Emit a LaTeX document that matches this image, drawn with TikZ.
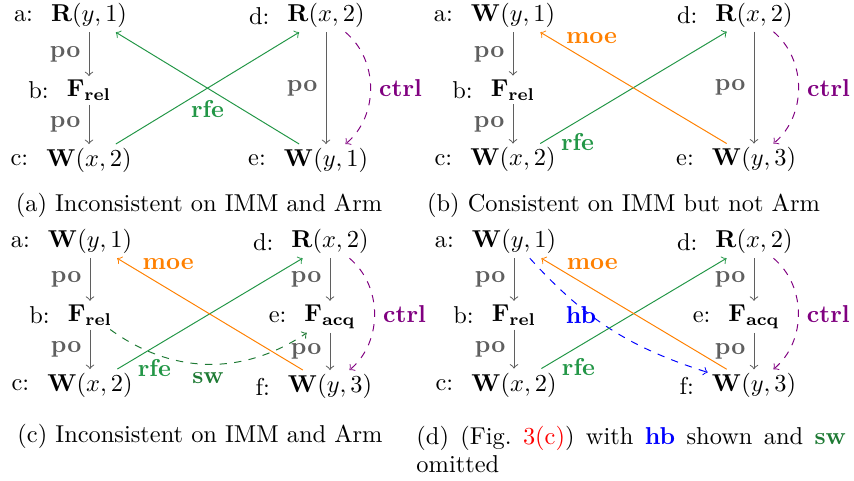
\documentclass[tikz,border=0pt]{standalone}
\usepackage{amsmath, amssymb}
\usepackage{xcolor}
\usetikzlibrary{positioning, arrows}
\definecolor{pogray}{RGB}{95, 95, 95}
\definecolor{rfegreen}{RGB}{34, 150, 70}
\definecolor{swgreen}{RGB}{30, 122, 52}
\definecolor{moeorange}{RGB}{255, 128, 0}
\definecolor{ctrlpurple}{RGB}{128, 0, 128}
\definecolor{hbblue}{RGB}{0, 0, 255}

\begin{document}
\begin{tikzpicture}[x=0.4098pt, y=-0.4098pt, >=to,
    evlabel/.style={inner sep=1.5pt, xshift=-4pt},
    event/.style={inner sep=1.5pt, anchor=base},
    poarrow/.style={->, color=pogray},
    polab/.style={left, text=pogray, font=\bfseries},
    rfearrow/.style={->, color=rfegreen},
    rfelab/.style={below=1.5pt, text=rfegreen, font=\bfseries},
    moearrow/.style={->, color=moeorange},
    moelab/.style={above=4.5pt, text=moeorange, font=\bfseries},
    ctrlarrow/.style={->, dashed, color=ctrlpurple},
    ctrllab/.style={right, text=ctrlpurple, font=\bfseries},
    swarrow/.style={->, dashed, color=swgreen},
    swlab/.style={below, text=swgreen, font=\bfseries},
    hbarrow/.style={->, dashed, color=hbblue},
    hblab/.style={anchor=north, yshift=4pt, text=hbblue, font=\bfseries},
    subcap/.style={anchor=base, inner sep=0pt}]

    \useasboundingbox (0,0) rectangle (854,481);

    % (a) Inconsistent on IMM and Arm
    \node[event, label={[evlabel]left:{a:}}] (a1) at (89,22) {$\mathbf{R}(y,1)$};
    \node[event, label={[evlabel]left:{b:}}] (b1) at (89,97) {$\mathbf{F}_{\mathbf{rel}}$};
    \node[event, label={[evlabel]left:{c:}}] (c1) at (89,166.5) {$\mathbf{W}(x,2)$};
    \node[event, label={[evlabel]left:{d:}}] (d1) at (326,22) {$\mathbf{R}(x,2)$};
    \node[event, label={[evlabel]left:{e:}}] (e1) at (326,166.5) {$\mathbf{W}(y,1)$};

    \draw[poarrow] (a1) -- node[polab] {po} (b1);
    \draw[poarrow] (b1) -- node[polab] {po} (c1);
    \draw[poarrow] (d1) -- node[polab] {po} (e1);
    \draw[ctrlarrow] (d1) to[bend left=50] node[ctrllab] {ctrl} (e1);
    \draw[rfearrow] (c1) -- node[rfelab] {rfe} (d1);
    \draw[rfearrow] (e1) -- (a1);

    \node[subcap] (capa) at (199,212) {(a) Inconsistent on IMM and Arm};

    % (b) Consistent on IMM but not Arm
    \node[event, label={[evlabel]left:{a:}}] (a2) at (513,22) {$\mathbf{W}(y,1)$};
    \node[event, label={[evlabel]left:{b:}}] (b2) at (513,96.5) {$\mathbf{F}_{\mathbf{rel}}$};
    \node[event, label={[evlabel]left:{c:}}] (c2) at (513,166) {$\mathbf{W}(x,2)$};
    \node[event, label={[evlabel]left:{d:}}] (d2) at (754,21.5) {$\mathbf{R}(x,2)$};
    \node[event, label={[evlabel]left:{e:}}] (e2) at (754,166) {$\mathbf{W}(y,3)$};

    \draw[poarrow] (a2) -- node[polab] {po} (b2);
    \draw[poarrow] (b2) -- node[polab] {po} (c2);
    \draw[poarrow] (d2) -- node[polab] {po} (e2);
    \draw[ctrlarrow] (d2) to[bend left=50] node[ctrllab] {ctrl} (e2);
    \draw[rfearrow] (c2) -- node[rfelab, pos=0.2] {rfe} (d2);
    \draw[moearrow] (e2) -- node[moelab, pos=0.725] {moe} (a2);

    \node[subcap] (capb) at (623.5,212) {(b) Consistent on IMM but not Arm};

    % (c) Inconsistent on IMM and Arm
    \node[event, label={[evlabel]left:{a:}}] (a3) at (90,248) {$\mathbf{W}(y,1)$};
    \node[event, label={[evlabel]left:{b:}}] (b3) at (90,321.7) {$\mathbf{F}_{\mathbf{rel}}$};
    \node[event, label={[evlabel]left:{c:}}] (c3) at (90,391.5) {$\mathbf{W}(x,2)$};
    \node[event, label={[evlabel]left:{d:}}] (d3) at (330,248) {$\mathbf{R}(x,2)$};
    \node[event, label={[evlabel]left:{e:}}] (e3) at (330,321.7) {$\mathbf{F}_{\mathbf{acq}}$};
    \node[event, label={[evlabel]left:{f:}}] (f3) at (330,392.5) {$\mathbf{W}(y,3)$};

    \draw[poarrow] (a3) -- node[polab] {po} (b3);
    \draw[poarrow] (b3) -- node[polab] {po} (c3);
    \draw[poarrow] (d3) -- node[polab] {po} (e3);
    \draw[poarrow] (e3) -- node[polab] {po} (f3);
    \draw[ctrlarrow] (d3) to[bend left=50] node[ctrllab] {ctrl} (f3);
    \draw[swarrow] (b3) to[bend right=35] node[swlab] {sw} (e3);
    \draw[rfearrow] (c3) -- node[rfelab, pos=0.2] {rfe} (d3);
    \draw[moearrow] (f3) -- node[moelab, pos=0.725] {moe} (a3);

    \node[subcap] (capc) at (200,442) {(c) Inconsistent on IMM and Arm};

    % (d) same as (c), hb instead of sw
    \node[event, label={[evlabel]left:{a:}}] (a4) at (514,248) {$\mathbf{W}(y,1)$};
    \node[event, label={[evlabel]left:{b:}}] (b4) at (514,321.7) {$\mathbf{F}_{\mathbf{rel}}$};
    \node[event, label={[evlabel]left:{c:}}] (c4) at (514,391) {$\mathbf{W}(x,2)$};
    \node[event, label={[evlabel]left:{d:}}] (d4) at (754,248) {$\mathbf{R}(x,2)$};
    \node[event, label={[evlabel]left:{e:}}] (e4) at (754,321.7) {$\mathbf{F}_{\mathbf{acq}}$};
    \node[event, label={[evlabel]left:{f:}}] (f4) at (754,391.7) {$\mathbf{W}(y,3)$};

    \draw[poarrow] (a4) -- node[polab] {po} (b4);
    \draw[poarrow] (b4) -- node[polab] {po} (c4);
    \draw[poarrow] (d4) -- node[polab] {po} (e4);
    \draw[poarrow] (e4) -- node[polab] {po} (f4);
    \draw[ctrlarrow] (d4) to[bend left=50] node[ctrllab] {ctrl} (f4);
    \draw[hbarrow] (a4) to[bend right=15] node[hblab, pos=0.32] {hb} (f4);
    \draw[rfearrow] (c4) -- node[rfelab, pos=0.2] {rfe} (d4);
    \draw[moearrow] (f4) -- node[moelab, pos=0.725] {moe} (a4);

    \node[subcap, anchor=north west, text width=176pt, align=justify,
          font=\fontsize{10pt}{11.2pt}\selectfont] (capd) at (416,426)
        {(d) (Fig.~\textcolor{red}{3(c)}) with \textbf{\color{hbblue}hb} shown and \textbf{\color{swgreen}sw}\linebreak omitted};
\end{tikzpicture}
\end{document}
